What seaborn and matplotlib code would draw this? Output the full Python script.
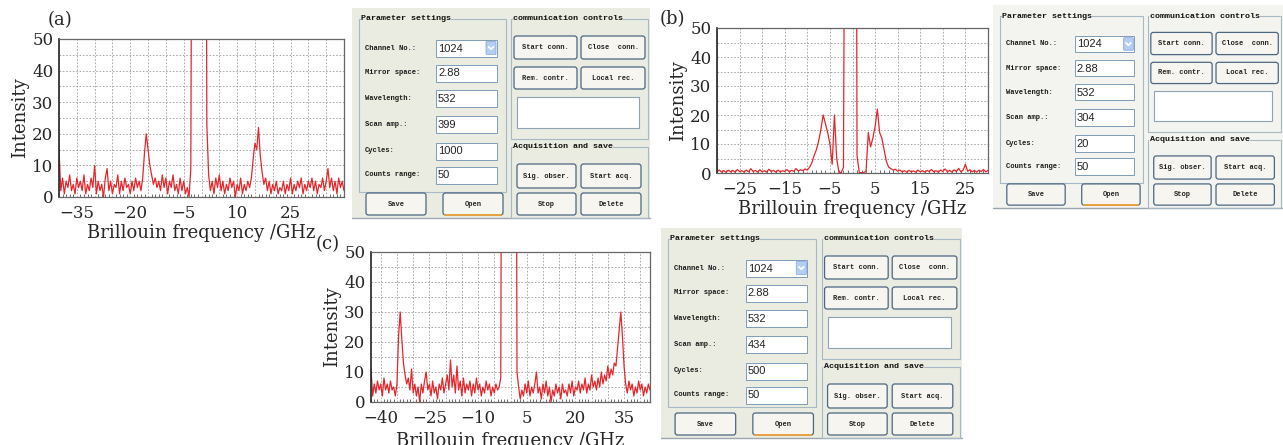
import numpy as np
import matplotlib
matplotlib.use("Agg")
import matplotlib.pyplot as plt
import seaborn as sns
from matplotlib.patches import FancyBboxPatch, Rectangle
from matplotlib.ticker import MultipleLocator, FuncFormatter

# spectra, one value every 0.5 GHz
intensity_a = [
    15, 2, 6, 1, 5, 3, 7, 2, 4, 1, 6, 3, 5, 2, 7, 1, 4, 2, 6, 3,
    10, 1, 5, 2, 4, 0, 6, 9, 2, 5, 1, 4, 3, 7, 1, 5, 2, 6, 3, 4,
    1, 5, 2, 6, 3, 5, 2, 6, 14, 20, 15, 10, 7, 4, 6, 3, 5, 2, 7, 3,
    6, 1, 5, 3, 7, 2, 4, 1, 6, 2, 5, 1, 3, 0, 9, 180, 400, 500, 520, 500,
    450, 380, 250, 23, 7, 2, 5, 1, 6, 3, 7, 2, 5, 1, 4, 2, 6, 3, 5, 0,
    4, 2, 6, 1, 4, 2, 5, 3, 6, 12, 17, 15, 22, 13, 8, 4, 6, 2, 5, 1,
    4, 2, 5, 1, 3, 2, 5, 1, 4, 2, 6, 1, 4, 2, 5, 3, 6, 1, 4, 2,
    5, 3, 6, 2, 5, 1, 4, 3, 6, 2, 5, 9, 3, 6, 2, 5, 1, 6, 3, 5,
    2,
]
intensity_b = [
    0.5, 1.0, 0.3, 0.8, 0.2, 1.0, 0.4, 0.9, 0.3, 1.2, 0.5, 0.8, 0.3, 1.0, 0.4, 1.5,
    0.5, 0.9, 0.3, 1.1, 0.4, 0.8, 0.3, 1.3, 0.5, 0.9, 0.3, 1.0, 0.4, 0.8, 0.5, 1.2,
    0.4, 0.9, 0.6, 1.5, 0.7, 1.1, 0.8, 1.4, 1.0, 2.0, 3.5, 6.0, 8.0, 11.0, 15.0, 20.0,
    17.0, 14.0, 10.0, 3.0, 20.0, 5.0, 0.2, 0.1, 2.0, 200, 420, 480, 450, 360, 6.0, 0.2,
    0.1, 0.2, 0.5, 14.0, 9.0, 12.0, 16.0, 22.0, 14.0, 12.0, 8.0, 4.0, 2.0, 1.5, 1.0, 1.3,
    0.6, 1.0, 0.4, 0.8, 0.3, 0.9, 0.4, 0.7, 0.3, 1.0, 0.4, 0.8, 0.3, 0.9, 0.5, 1.2,
    0.4, 0.8, 0.3, 1.0, 0.5, 1.4, 0.4, 0.9, 0.3, 1.1, 0.5, 1.6, 0.4, 1.0, 3.0, 0.6,
    1.1, 0.4, 0.9, 0.3, 1.0, 0.5, 1.2, 0.4, 0.9,
]
intensity_c = [
    11, 2, 6, 3, 7, 4, 6, 2, 8, 4, 6, 3, 7, 4, 5, 2, 6, 22, 30, 21,
    13, 9, 6, 8, 4, 11, 3, 6, 2, 5, 0, 6, 3, 7, 10, 4, 6, 2, 7, 3,
    5, 1, 6, 4, 8, 3, 6, 9, 4, 14, 5, 9, 3, 12, 4, 7, 2, 8, 3, 6,
    4, 7, 2, 6, 3, 8, 4, 6, 2, 5, 3, 7, 4, 6, 2, 5, 3, 6, 4, 5,
    8, 200, 400, 480, 500, 490, 460, 420, 350, 250, 10, 5, 1, 4, 2, 6, 3, 7, 2, 5,
    3, 6, 10, 3, 5, 1, 6, 3, 7, 2, 5, 0, 4, 2, 6, 3, 5, 1, 6, 3,
    4, 2, 6, 3, 7, 2, 5, 4, 7, 3, 6, 4, 8, 3, 6, 4, 9, 5, 7, 4,
    8, 5, 10, 6, 9, 7, 12, 8, 11, 9, 13, 12, 18, 24, 30, 22, 12, 6, 3, 7,
    4, 6, 2, 5, 3, 7, 4, 6, 2, 5, 3, 6, 4,
]
freq_a = np.linspace(-40, 40, len(intensity_a))
freq_b = np.linspace(-30, 30, len(intensity_b))
freq_c = np.linspace(-43, 43, len(intensity_c))

xticks_a = [-35, -20, -5, 10, 25]
xticks_b = [-25, -15, -5, 5, 15, 25]
xticks_c = [-40, -25, -10, 5, 20, 35]
yticks = [0, 10, 20, 30, 40, 50]

field_names = ["Channel No.:", "Mirror space:", "Wavelength:", "Scan amp.:",
               "Cycles:", "Counts range:"]
values_a = ["1024", "2.88", "532", "399", "1000", "50"]
values_b = ["1024", "2.88", "532", "304", "20", "50"]
values_c = ["1024", "2.88", "532", "434", "500", "50"]
button_names = ["Save", "Open", "Start conn.", "Close  conn.", "Rem. contr.",
                "Local rec.", "Sig. obser.", "Start acq.", "Stop", "Delete"]

W, H = 1283, 445
RED = "#e5262b"
EDGE = "#a6b7c6"
BTN_EDGE = "#4b6781"
BTN_FC = "#f6f5f0"
MONO = "Liberation Mono"

sns.set_style("white")
plt.rcParams["font.family"] = ["DejaVu Serif"]
plt.rcParams["axes.unicode_minus"] = True

fig = plt.figure(figsize=(W / 100, H / 100), dpi=100)

# full-figure layer in pixel units for the GUI screenshots and panel tags
gui = fig.add_axes([0, 0, 1, 1])
gui.set_xlim(0, W)
gui.set_ylim(H, 0)
gui.axis("off")


def px_axes(left, top, right, bottom):
    return fig.add_axes([left / W, 1 - bottom / H, (right - left) / W, (bottom - top) / H])


def minus(v):
    return f"{v:.0f}".replace("-", "\u2212")


def spectrum(ax, freq, inten, xlim, xticks):
    sns.lineplot(x=freq, y=inten, ax=ax, color=RED, linewidth=0.9)
    ax.set_xlim(xlim)
    ax.set_ylim(0, 50)
    ax.xaxis.set_major_locator(MultipleLocator(5))
    ax.yaxis.set_major_locator(MultipleLocator(5))
    ax.xaxis.set_minor_locator(MultipleLocator(1))
    ax.xaxis.set_major_formatter(FuncFormatter(
        lambda v, p: minus(v) if int(round(v)) in xticks else ""))
    ax.yaxis.set_major_formatter(FuncFormatter(
        lambda v, p: minus(v) if int(round(v)) in yticks else ""))
    ax.grid(True, which="major", color="#9c9c9c", linestyle=(0, (2, 2)), linewidth=0.6)
    ax.tick_params(which="major", length=0, labelsize=12)
    ax.tick_params(axis="x", which="major", pad=6)
    ax.tick_params(axis="y", which="major", pad=4)
    ax.tick_params(which="minor", direction="in", length=2.5, width=0.6,
                   color="#555555", bottom=True)
    for side, sp in ax.spines.items():
        sp.set_color("#222222" if side == "left" else "#666666")
        sp.set_linewidth(1.2 if side == "left" else 0.9)
    ax.set_xlabel("Brillouin frequency /GHz", fontsize=13, labelpad=1)
    ax.set_ylabel("Intensity", fontsize=13, labelpad=2)


def add_box(x, y, w, h, fc, ec, lw=0.8, r=0.0, z=1):
    if r:
        p = FancyBboxPatch((x, y), w, h, boxstyle=f"round,pad=0,rounding_size={r}",
                           fc=fc, ec=ec, lw=lw, zorder=z)
    else:
        p = Rectangle((x, y), w, h, fc=fc, ec=ec, lw=lw, zorder=z)
    gui.add_patch(p)


def draw_panel(ox, oy, sx, sy, bg, values, pbh=173):
    def X(v):
        return ox + v * sx

    def Y(v):
        return oy + v * sy

    def rect(x0, y0, x1, y1, fc, ec, lw=0.8, r=0.0, z=1):
        add_box(X(x0), Y(y0), X(x1) - X(x0), Y(y1) - Y(y0), fc, ec, lw, r, z)

    rect(-7, -11, 291, 199, bg, "none", 0, z=0)
    gui.plot([X(-7), X(291)], [Y(199), Y(199)], color="#9ba6ae", lw=1.0, zorder=1)

    # group boxes
    rect(0, 0, 147, pbh, "none", EDGE)
    rect(152, 0, 289, 120, "none", EDGE)
    rect(152, 128, 289, 199, "none", EDGE)
    for x, y, s in [(2, 0, "Parameter settings"), (154, 0, "communication controls"),
                    (154, 128, "Acquisition and save")]:
        gui.text(X(x), Y(y), s, va="center", family=MONO, fontsize=6, weight="bold",
                 color="#111111", zorder=5, bbox=dict(fc=bg, ec="none", pad=0.3))

    # parameter rows
    row_y = [29, 54, 79, 105, 132, 156]
    for name, val, y in zip(field_names, values, row_y):
        gui.text(X(6), Y(y), name, va="center", family=MONO, fontsize=5.1,
                 weight="bold", color="#1a1a1a", zorder=5)
        rect(77, y - 8.5, 138, y + 8.5, "white", "#7f9db9", 0.7, z=2)
        gui.text(X(79), Y(y + 0.5), val, va="center", family="Liberation Sans",
                 fontsize=8, color="#222222", zorder=5)
    # dropdown arrow
    rect(127, row_y[0] - 6.5, 137, row_y[0] + 6.5, "#b4cdf2", "#8eaee0", 0.6, 1, 3)
    cx, cy = X(132), Y(row_y[0])
    gui.plot([cx - 2.5, cx, cx + 2.5], [cy - 1.2, cy + 1.3, cy - 1.2], color="white",
             lw=1.2, zorder=4)

    # buttons
    slots = [(7, 174, 67, 196), (84, 174, 144, 196), (155, 17, 218, 40), (222, 17, 286, 40),
             (155, 48, 218, 70), (222, 48, 286, 70), (158, 145, 217, 169),
             (222, 145, 282, 169), (158, 174, 217, 196), (222, 174, 282, 196)]
    for (x0, y0, x1, y1), s in zip(slots, button_names):
        rect(x0, y0, x1, y1, BTN_FC, BTN_EDGE, 0.9, 2.5, 3)
        gui.text(X((x0 + x1) / 2), Y((y0 + y1) / 2), s, ha="center", va="center",
                 family=MONO, fontsize=5, weight="bold", color="#222222", zorder=5)
    gui.plot([X(86), X(142)], [Y(195.5), Y(195.5)], color="#f0a33a", lw=1.3, zorder=4)

    # message area
    rect(158, 78, 280, 109, "white", "#8ea3b6", 0.8, z=2)


# spectra
ax_a = px_axes(59, 39, 344, 197)
spectrum(ax_a, freq_a, intensity_a, (-40, 40), xticks_a)
ax_b = px_axes(717, 28, 988, 173)
spectrum(ax_b, freq_b, intensity_b, (-30, 30), xticks_b)
ax_c = px_axes(371, 252, 650, 402)
spectrum(ax_c, freq_c, intensity_c, (-43, 43), xticks_c)
ax_c.xaxis.labelpad = 3

# GUI screenshots
draw_panel(359, 19, 1.0, 1.0, "#eaece2", values_a)
draw_panel(1000, 16, 0.973, 0.965, "#f3f4ef", values_b)
draw_panel(668, 239, 1.01, 1.0, "#eaece2", values_c, pbh=168)

# panel tags
for x, y, s in [(60, 20, "(a)"), (672, 19, "(b)"), (328, 244, "(c)")]:
    gui.text(x, y, s, ha="center", va="center", fontsize=13)

fig.savefig("out.png", dpi=100)
